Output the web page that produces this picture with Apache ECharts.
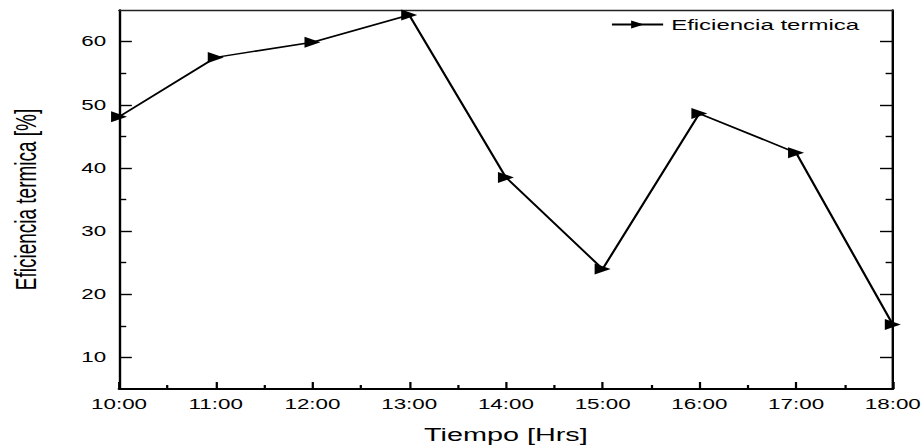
<!DOCTYPE html>
<html>
<head>
<meta charset="utf-8">
<script src="https://cdn.jsdelivr.net/npm/echarts@6/dist/echarts.min.js"></script>
<style>
  html, body { margin: 0; padding: 0; background: #fff; overflow: hidden; }
  /* the figure is drawn narrow and widened horizontally, like the original plot export */
  #chart { width: 577.5px; height: 447px; transform: scaleX(1.6); transform-origin: 0 0; }
</style>
</head>
<body>
<div id="chart"></div>
<script>
// Hourly thermal efficiency readings
const times = ['10:00', '11:00', '12:00', '13:00', '14:00', '15:00', '16:00', '17:00', '18:00'];
const efficiency = [48.1, 57.5, 59.9, 64.2, 38.5, 24.0, 48.6, 42.4, 15.2];
const seriesName = 'Eficiencia termica';
const yMajor = [10, 20, 30, 40, 50, 60];
const yMinor = [15, 25, 35, 45, 55];

const hourOf = t => parseInt(t.split(':')[0], 10);
const points = times.map((t, i) => [hourOf(t), efficiency[i]]);

const font = 'Liberation Sans, Arial, sans-serif';
const black = '#000';
const tickStyle = { color: black, width: 1.4 };

function yAxisBase(position) {
  return {
    type: 'value', min: 5, max: 65, interval: 5,
    position: position,
    splitLine: { show: false },
    axisLabel: { show: false }
  };
}

const chart = echarts.init(document.getElementById('chart'), null, { renderer: 'svg' });
chart.setOption({
  animation: false,
  backgroundColor: '#fff',
  grid: { left: 74.4, right: 20, top: 10, bottom: 58, containLabel: false, outerBoundsMode: 'none' },
  legend: {
    top: 12, right: 36,
    itemWidth: 32, itemHeight: 10, itemGap: 4,
    textStyle: { fontFamily: font, fontSize: 15, color: black },
    data: [seriesName]
  },
  xAxis: [{
    type: 'value',
    min: 10, max: 18, interval: 1,
    position: 'bottom',
    name: 'Tiempo [Hrs]',
    nameLocation: 'middle',
    nameGap: 37,
    nameTextStyle: { fontFamily: font, fontSize: 18, color: black },
    axisLine: { lineStyle: { color: black, width: 1.8 } },
    axisTick: { inside: true, length: 7, lineStyle: tickStyle },
    minorTick: { show: true, splitNumber: 2, length: 4, lineStyle: tickStyle },
    splitLine: { show: false },
    axisLabel: {
      margin: 8,
      fontFamily: font, fontSize: 14, color: black,
      formatter: v => (v < 10 ? '0' : '') + v + ':00'
    }
  }, {
    type: 'value',
    min: 10, max: 18, interval: 1,
    position: 'top',
    axisLine: { lineStyle: { color: '#222', width: 1.3 } },
    axisTick: { show: false },
    axisLabel: { show: false },
    splitLine: { show: false }
  }],
  yAxis: [
    Object.assign(yAxisBase('left'), {
      name: 'Eficiencia termica [%]',
      nameLocation: 'middle',
      nameGap: 49,
      nameTextStyle: { fontFamily: font, fontSize: 19, color: black },
      axisLine: { lineStyle: { color: black, width: 1.5 } },
      axisTick: { inside: true, length: 8, customValues: yMajor, lineStyle: tickStyle },
      axisLabel: {
        show: true, margin: 8, customValues: yMajor,
        fontFamily: font, fontSize: 14, color: black
      }
    }),
    Object.assign(yAxisBase('left'), {
      axisLine: { show: false },
      axisTick: { inside: true, length: 4.5, customValues: yMinor, lineStyle: tickStyle }
    }),
    Object.assign(yAxisBase('right'), {
      axisLine: { lineStyle: { color: black, width: 1.5 } },
      axisTick: { inside: true, length: 8, customValues: yMajor, lineStyle: tickStyle }
    }),
    Object.assign(yAxisBase('right'), {
      axisLine: { show: false },
      axisTick: { inside: true, length: 4.5, customValues: yMinor, lineStyle: tickStyle }
    })
  ],
  series: [{
    name: seriesName,
    type: 'line',
    data: points,
    symbol: 'triangle',
    symbolSize: [11, 10],
    symbolRotate: -90,
    clip: true,
    itemStyle: { color: black },
    lineStyle: { color: black, width: 1.5 }
  }]
});
</script>
</body>
</html>
